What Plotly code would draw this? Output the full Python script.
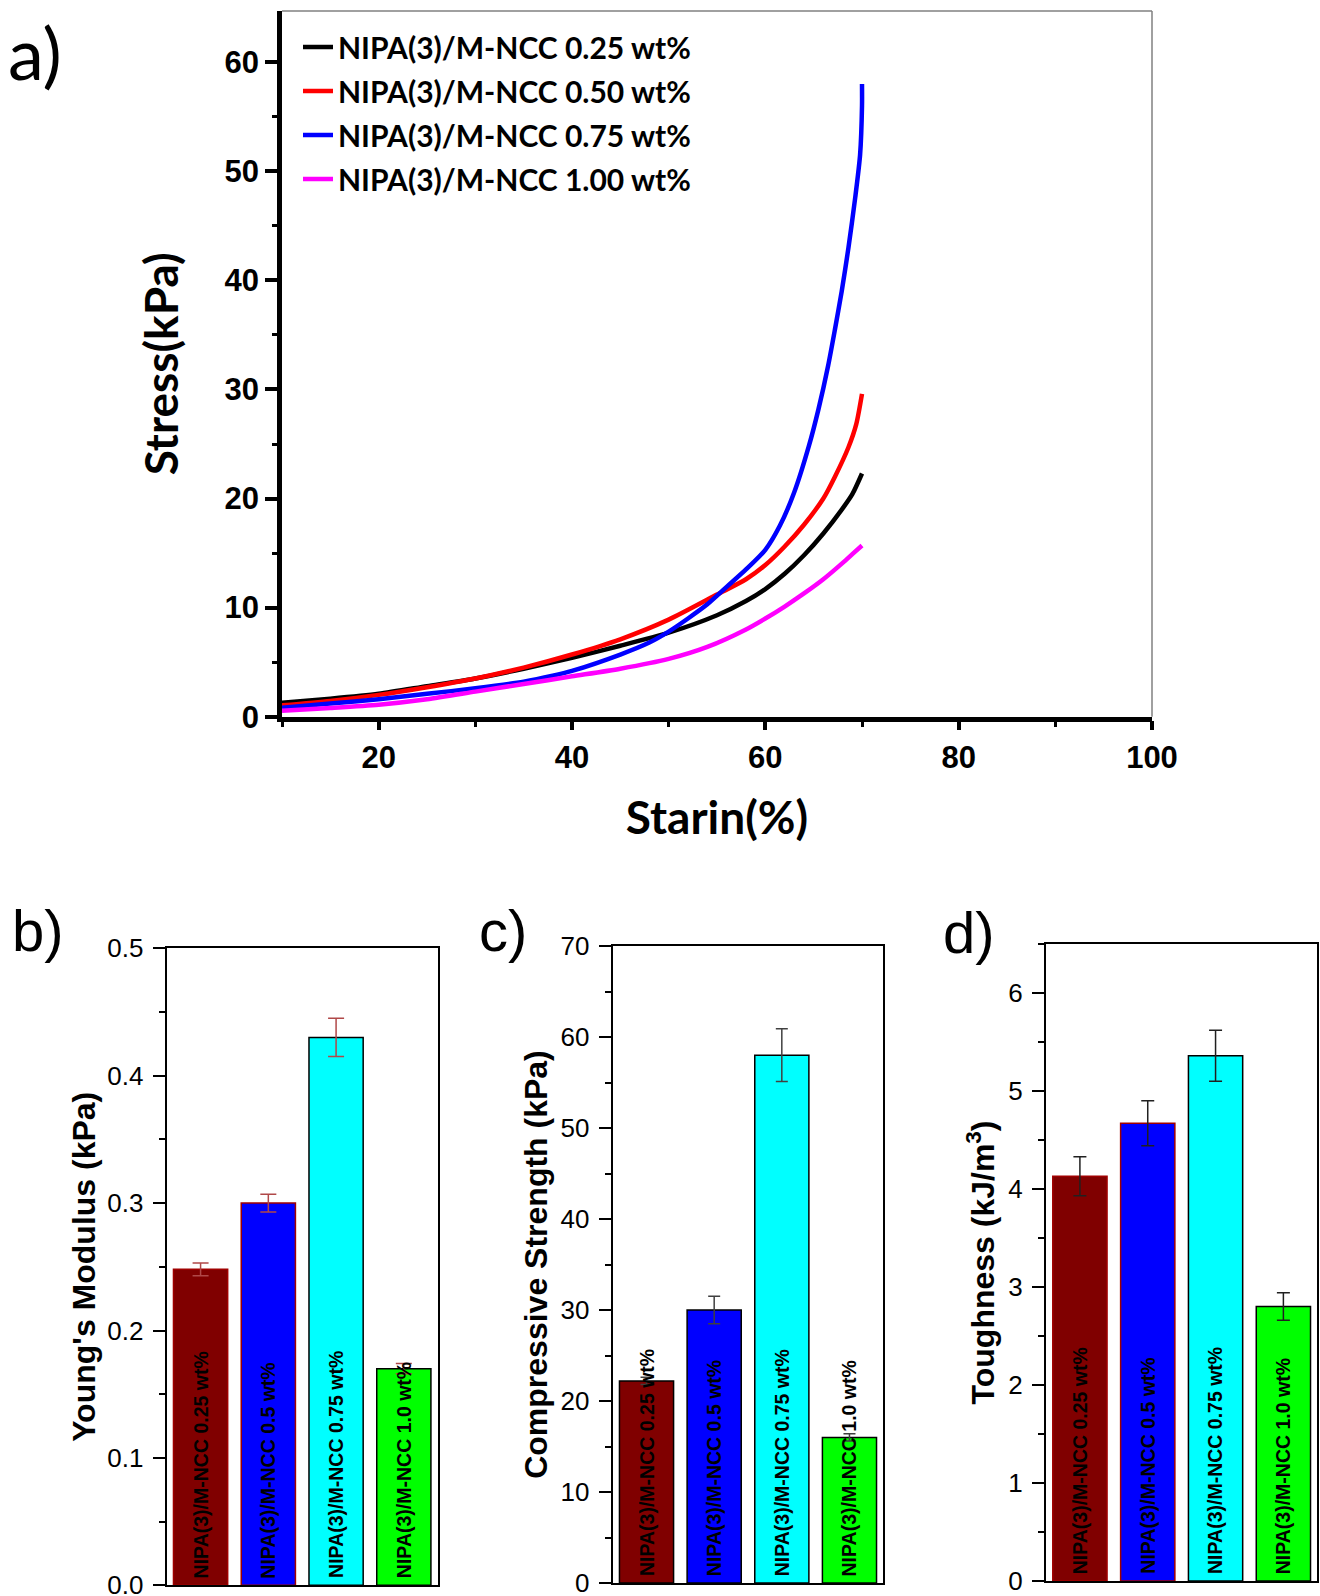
import plotly.graph_objects as go

# ---------------- data: panel a (stress-strain curves) ----------------
series_names = ["NIPA(3)/M-NCC 0.25 wt%", "NIPA(3)/M-NCC 0.50 wt%",
                "NIPA(3)/M-NCC 0.75 wt%", "NIPA(3)/M-NCC 1.00 wt%"]
series_colors = ["#000000", "#ff0000", "#0000ff", "#ff00ff"]

strain_025 = [10, 15, 20, 25, 30, 35, 40, 45, 50, 55, 58, 60, 62, 64, 66, 68, 69, 70]
stress_025 = [1.28, 1.65, 2.1, 2.8, 3.5, 4.4, 5.4, 6.5, 7.7, 9.3, 10.6, 11.7, 13.1, 14.8, 16.8, 19.1, 20.4, 22.3]

strain_050 = [10, 15, 20, 25, 30, 35, 40, 45, 50, 55, 58, 60, 62, 64, 66, 67.2, 68.6, 69.4, 70]
stress_050 = [1.04, 1.45, 2.0, 2.7, 3.5, 4.5, 5.7, 7.1, 8.9, 11.2, 12.6, 13.9, 15.6, 17.6, 20.0, 22.0, 24.7, 26.8, 29.6]

strain_075 = [10, 15, 20, 25, 30, 35, 38, 40, 45, 48, 50, 52, 54, 56, 58, 60, 61.5, 63, 64.5,
              65.5, 66.5, 67.2, 67.9, 68.6, 69.3, 69.8, 70, 70]
stress_075 = [0.82, 1.2, 1.6, 2.1, 2.6, 3.2, 3.75, 4.2, 5.7, 6.8, 7.8, 9.0, 10.3, 11.9, 13.5, 15.3, 17.5,
              20.6, 24.8, 28.2, 32.2, 35.5, 39.0, 43.0, 47.6, 51.5, 56.0, 58.0]

strain_100 = [10, 15, 20, 25, 30, 35, 40, 45, 50, 54, 58, 60, 62, 64, 66, 68, 69, 70]
stress_100 = [0.55, 0.8, 1.1, 1.6, 2.3, 3.0, 3.7, 4.4, 5.3, 6.4, 8.0, 9.0, 10.1, 11.3, 12.6, 14.1, 14.9, 15.7]

# ---------------- data: panels b, c, d (bars) ----------------
bar_labels = ["NIPA(3)/M-NCC 0.25 wt%", "NIPA(3)/M-NCC 0.5 wt%",
              "NIPA(3)/M-NCC 0.75 wt%", "NIPA(3)/M-NCC 1.0 wt%"]
bar_colors = ["#800000", "#0000ff", "#00ffff", "#00ff00"]

modulus = [0.248, 0.300, 0.430, 0.170]
modulus_err = [0.005, 0.007, 0.015, 0.004]

strength = [22.2, 30.0, 58.0, 16.0]
strength_err = [0.4, 1.5, 2.9, 0.4]

toughness = [4.13, 4.67, 5.36, 2.80]
toughness_err = [0.20, 0.23, 0.26, 0.14]

W, H = 1320, 1596


def px(x0, x1):
    return [x0 / W, x1 / W]


def py(top, bottom):
    return [1 - bottom / H, 1 - top / H]


fig = go.Figure()

curve_x = [strain_025, strain_050, strain_075, strain_100]
curve_y = [stress_025, stress_050, stress_075, stress_100]
for i, (name, col) in enumerate(zip(series_names, series_colors)):
    fig.add_trace(go.Scatter(
        x=curve_x[i], y=curve_y[i], mode="lines", name=name,
        line=dict(color=col, width=4.5, shape="spline", smoothing=0.7), legendgroup=f"g{i}",
        xaxis="x", yaxis="y"))

bar_sets = [
    (modulus, modulus_err, "x2", "y2", "#b04848", 8, ["#a00000", "#a00000", "#000000", "#000000"]),
    (strength, strength_err, "x3", "y3", "#404040", 6, ["#000000"] * 4),
    (toughness, toughness_err, "x4", "y4", "#202020", 6.5, ["#a00000", "#a00000", "#000000", "#000000"]),
]
for vals, errs, xa, ya, ecol, ew, lcols in bar_sets:
    fig.add_trace(go.Bar(
        x=bar_labels, y=vals, xaxis=xa, yaxis=ya, showlegend=False,
        marker=dict(color=bar_colors, line=dict(color=lcols, width=1.5)),
        error_y=dict(type="data", array=errs, color=ecol, thickness=1.5, width=ew),
    ))
    for lab in bar_labels:
        fig.add_annotation(
            x=lab, y=0, xref=xa, yref=ya, text=lab, textangle=-90,
            showarrow=False, yanchor="bottom", xanchor="center", yshift=5,
            font=dict(family="Liberation Sans, Arial", size=19.5, color="#000000", weight="bold"))

# ---------------- axes ----------------
top_tick_font = dict(family="Liberation Sans, Arial", size=31, color="#000000", weight="bold")
title_font_a = dict(family="Lato, Open Sans", size=46, color="#000000", weight="bold")

fig.update_layout(
    width=W, height=H, margin=dict(l=0, r=0, t=0, b=0, autoexpand=False),
    paper_bgcolor="white", plot_bgcolor="white",
    bargap=0.2, showlegend=True,
    legend=dict(x=298 / W, y=1 - 21 / H, xanchor="left", yanchor="top",
                bgcolor="rgba(0,0,0,0)", traceorder="grouped", tracegroupgap=2,
                font=dict(family="Lato, Open Sans", size=30, color="#000000", weight="bold"),
                itemwidth=30),
    xaxis=dict(domain=px(282, 1152), range=[10, 100], tick0=0, dtick=20,
               showline=True, linewidth=4.5, linecolor="#000000",
               ticks="outside", ticklen=9, tickwidth=4, tickcolor="#000000",
               minor=dict(dtick=10, ticks="outside", ticklen=6, tickwidth=3, tickcolor="#000000"),
               showgrid=False, zeroline=False, tickfont=top_tick_font, ticklabelstandoff=0,
               title=dict(text="Starin(%)", font=title_font_a, standoff=30),
               anchor="y", automargin=False),
    yaxis=dict(domain=py(11, 716.7), range=[0, 64.7], tick0=0, dtick=10,
               showline=True, linewidth=4.5, linecolor="#000000",
               ticks="outside", ticklen=12, tickwidth=4, tickcolor="#000000",
               minor=dict(dtick=5, ticks="outside", ticklen=5, tickwidth=3, tickcolor="#000000"),
               showgrid=False, zeroline=False, tickfont=top_tick_font, ticklabelstandoff=0,
               title=dict(text="Stress(kPa)", font=title_font_a, standoff=33),
               anchor="x", automargin=False),
)

bottom_tick_font = dict(family="Liberation Sans, Arial", size=26, color="#000000")
bottom_title_font = dict(family="Liberation Sans, Arial", size=32, color="#000000", weight="bold")

panels = [
    ("xaxis2", "yaxis2", "x2", "y2", px(166.7, 437.7), py(948.3, 1585.3), [0, 0.5], 0.1, 0.05, ".1f",
     "Young's Modulus (kPa)", 2),
    ("xaxis3", "yaxis3", "x3", "y3", px(612.7, 883.3), py(946, 1583), [0, 70], 10, 5, "d",
     "Compressive Strength (kPa)", 3),
    ("xaxis4", "yaxis4", "x4", "y4", px(1046, 1317.3), py(944, 1580.9), [0, 6.5], 1, 0.5, "d",
     "Toughness (kJ/m<sup>3</sup>)", 4),
]
for xk, yk, xn, yn, xd, yd, yr, dt, mdt, fmt, ttl, so in panels:
    fig.update_layout(**{
        xk: dict(domain=xd, anchor=yn, type="category", range=[-0.5, 3.5],
                 showline=True, mirror=True, linewidth=2, linecolor="#000000",
                 showticklabels=False, ticks="", showgrid=False, zeroline=False,
                 automargin=False),
        yk: dict(domain=yd, anchor=xn, range=yr, tick0=0, dtick=dt, tickformat=fmt,
                 showline=True, mirror=True, linewidth=2, linecolor="#000000",
                 ticks="outside", ticklen=12, tickwidth=2, tickcolor="#000000",
                 minor=dict(dtick=mdt, ticks="outside", ticklen=6, tickwidth=2, tickcolor="#000000"),
                 showgrid=False, zeroline=False, tickfont=bottom_tick_font, ticklabelstandoff=4,
                 ticklabeloverflow="allow",
                 title=dict(text=ttl, font=bottom_title_font, standoff=so),
                 automargin=False),
    })

# thin grey frame on top/right of panel a
fig.add_shape(type="line", xref="x domain", yref="y domain", x0=0, x1=1, y0=1, y1=1,
              line=dict(color="#808080", width=1.5))
fig.add_shape(type="line", xref="x domain", yref="y domain", x0=1, x1=1, y0=0, y1=1,
              line=dict(color="#808080", width=1.5))

# panel letters
panel_letters = [("a)", 35, 52, "Lato, Open Sans", 72),
                 ("b)", 38, 930, "Liberation Sans, Arial", 58),
                 ("c)", 503, 930, "Liberation Sans, Arial", 58),
                 ("d)", 969, 932, "Liberation Sans, Arial", 58)]
for txt, cx, cy, fam, sz in panel_letters:
    fig.add_annotation(x=cx / W, y=1 - cy / H, xref="paper", yref="paper", text=txt,
                       showarrow=False, xanchor="center", yanchor="middle",
                       font=dict(family=fam, size=sz, color="#000000"))

fig.write_html("out.html")
